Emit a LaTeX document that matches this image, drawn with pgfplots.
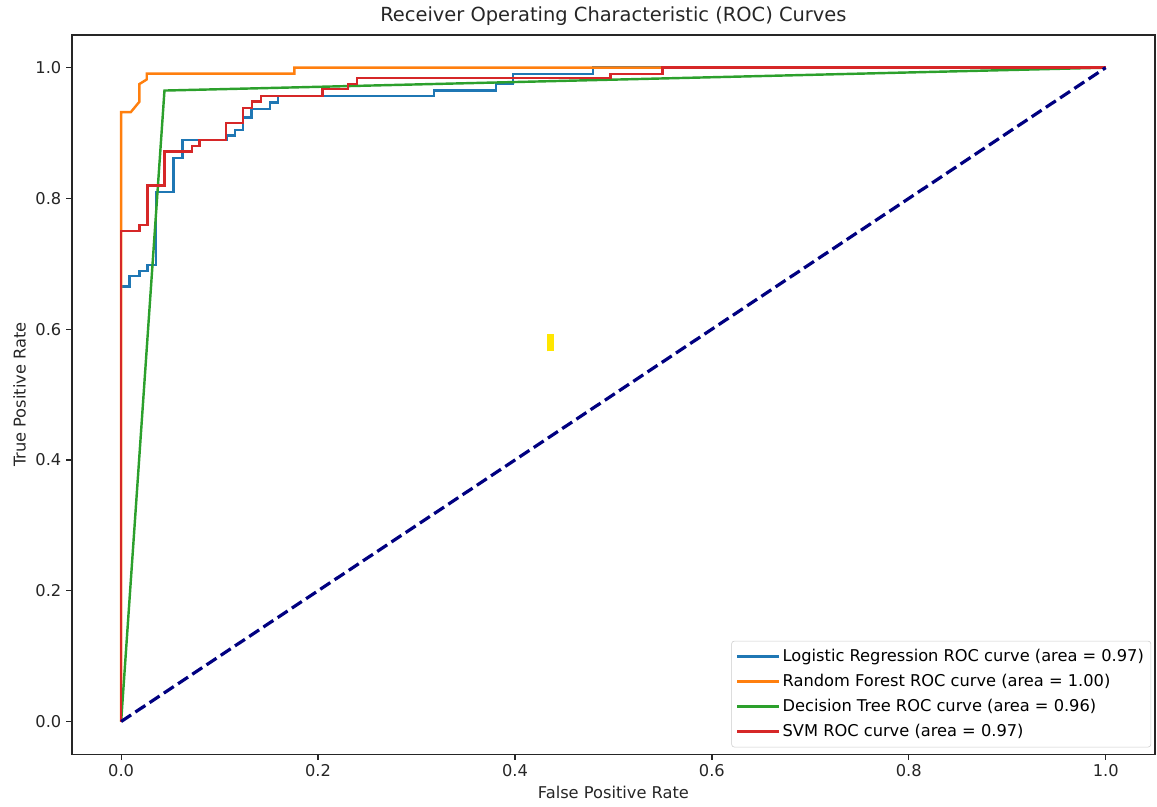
\documentclass[border=0pt]{standalone}
\usepackage{pgfplots}
\pgfplotsset{compat=1.18}
\usepackage{fontspec}
\setmainfont{DejaVu Sans}

\definecolor{tabblue}{HTML}{1F77B4}
\definecolor{taborange}{HTML}{FF7F0E}
\definecolor{tabgreen}{HTML}{2CA02C}
\definecolor{tabred}{HTML}{D62728}
\definecolor{mplnavy}{HTML}{000080}
\definecolor{marker}{HTML}{FFE600}

\begin{document}
\begin{tikzpicture}
\begin{axis}[
    name=roc,
    scale only axis,
    width=780pt, height=518pt,
    xmin=-0.05, xmax=1.05, ymin=-0.05, ymax=1.05,
    xtick={0,0.2,0.4,0.6,0.8,1.0},
    ytick={0,0.2,0.4,0.6,0.8,1.0},
    tick pos=left,
    tick align=outside,
    major tick length=4.1pt,
    every tick/.style={black!85, line width=0.9pt},
    axis line style={black!85, line width=0.9pt},
    xticklabel style={/pgf/number format/.cd, fixed, fixed zerofill, precision=1, assume math mode=true},
    yticklabel style={/pgf/number format/.cd, fixed, fixed zerofill, precision=1, assume math mode=true},
    tick label style={font=\fontsize{11.7}{14}\selectfont, text=black!85},
    label style={font=\fontsize{11.7}{14}\selectfont, text=black!85},
    title style={font=\fontsize{14}{17}\selectfont, text=black!85, yshift=-3pt},
    title={Receiver Operating Characteristic (ROC) Curves},
    xlabel={False Positive Rate},
    ylabel={True Positive Rate},
    legend style={
        at={(0.9965,0.0095)}, anchor=south east,
        draw=black!20, rounded corners=2pt, fill=white, fill opacity=0.8, text opacity=1,
        font=\fontsize{11.7}{14}\selectfont,
        row sep=3.6pt, inner xsep=3pt, inner ysep=4pt,
    },
    legend cell align=left,
    legend image code/.code={\draw[#1] (0pt,0pt) -- (24pt,0pt); \path (0pt,0pt) -- (30pt,0pt);},
]
% Logistic Regression
\addplot[tabblue, line width=1.75pt] coordinates {
    (0,0) (0,0.665) (0.0085,0.665) (0.0085,0.681) (0.0186,0.681) (0.0186,0.689)
    (0.0267,0.689) (0.0267,0.698) (0.0355,0.698) (0.0355,0.810) (0.053,0.810)
    (0.053,0.862) (0.0625,0.862) (0.0625,0.889) (0.107,0.889) (0.107,0.896)
    (0.1156,0.896) (0.1156,0.905) (0.124,0.905) (0.124,0.924) (0.1325,0.924)
    (0.1325,0.937) (0.151,0.937) (0.151,0.947) (0.1596,0.947) (0.1596,0.957)
    (0.318,0.957) (0.318,0.965) (0.381,0.965) (0.381,0.975) (0.398,0.975)
    (0.398,0.990) (0.479,0.990) (0.479,1.0) (1.0,1.0)
};
\addlegendentry{Logistic Regression ROC curve (area = 0.97)}
% Random Forest
\addplot[taborange, line width=1.75pt] coordinates {
    (0,0) (0,0.932) (0.0098,0.932) (0.0186,0.948) (0.0186,0.975) (0.026,0.982)
    (0.026,0.991) (0.176,0.991) (0.176,1.0) (1.0,1.0)
};
\addlegendentry{Random Forest ROC curve (area = 1.00)}
% Decision Tree
\addplot[tabgreen, line width=1.75pt] coordinates {
    (0,0) (0.044,0.965) (1.0,1.0)
};
\addlegendentry{Decision Tree ROC curve (area = 0.96)}
% SVM
\addplot[tabred, line width=1.75pt] coordinates {
    (0,0) (0,0.750) (0.0186,0.750) (0.0186,0.759) (0.0267,0.759) (0.0267,0.820)
    (0.044,0.820) (0.044,0.872) (0.0717,0.872) (0.0717,0.880) (0.0795,0.880)
    (0.0795,0.889) (0.1065,0.889) (0.1065,0.915) (0.124,0.915) (0.124,0.938)
    (0.133,0.938) (0.133,0.948) (0.142,0.948) (0.142,0.957) (0.2045,0.957)
    (0.2045,0.967) (0.2306,0.967) (0.2306,0.975) (0.2397,0.975) (0.2397,0.984)
    (0.497,0.984) (0.497,0.990) (0.550,0.990) (0.550,1.0) (1.0,1.0)
};
\addlegendentry{SVM ROC curve (area = 0.97)}
% chance line
\addplot[mplnavy, line width=2.3pt, dash pattern=on 8.6pt off 3.7pt, forget plot] coordinates {
    (0,0) (1,1)
};
% small yellow mark in the reference
\addplot[marker, line width=4.5pt, forget plot] coordinates {
    (0.436,0.566) (0.436,0.593)
};
\end{axis}
\pgfresetboundingbox
\path ([shift={(-51.8pt,-37.4pt)}]roc.south west) rectangle ([shift={(1.5pt,25.2pt)}]roc.north east);
\end{tikzpicture}
\end{document}
